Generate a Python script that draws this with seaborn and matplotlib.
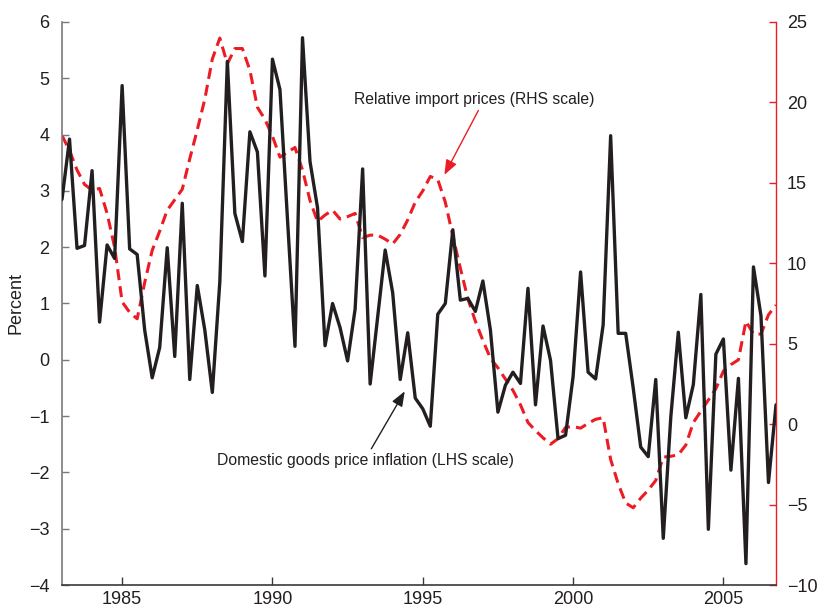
import numpy as np
import pandas as pd
import matplotlib
matplotlib.use("Agg")
import matplotlib.pyplot as plt
import seaborn as sns

# Quarterly observations, 1983 Q1 - 2006 Q4
quarters = np.arange(1983, 2007, 0.25)

# Domestic goods price inflation, percent (left scale)
domestic_inflation = [
    2.85, 3.92, 1.98, 2.03, 3.36, 0.67, 2.04, 1.80,
    4.87, 1.97, 1.87, 0.53, -0.32, 0.22, 1.99, 0.06,
    2.78, -0.35, 1.32, 0.53, -0.58, 1.39, 5.30, 2.60,
    2.10, 4.05, 3.69, 1.49, 5.34, 4.80, 2.50, 0.24,
    5.72, 3.52, 2.70, 0.25, 1.00, 0.57, -0.02, 0.90,
    3.39, -0.43, 0.76, 1.95, 1.19, -0.35, 0.48, -0.68,
    -0.87, -1.18, 0.81, 1.00, 2.31, 1.06, 1.09, 0.86,
    1.40, 0.53, -0.93, -0.45, -0.22, -0.42, 1.27, -0.80,
    0.60, -0.01, -1.40, -1.34, -0.30, 1.56, -0.22, -0.34,
    0.62, 3.98, 0.47, 0.47, -0.50, -1.55, -1.72, -0.35,
    -3.17, -1.02, 0.49, -1.03, -0.44, 1.16, -3.01, 0.10,
    0.37, -1.96, -0.33, -3.62, 1.65, 0.78, -2.18, -0.80,
]

# Relative import prices (right scale)
relative_import_prices = [
    17.95, 17.0, 15.8, 14.9, 14.55, 14.65, 13.1, 11.0,
    7.6, 6.95, 6.55, 8.8, 10.8, 12.0, 13.3, 13.95,
    14.6, 16.5, 18.3, 20.2, 22.7, 24.0, 22.4, 23.35,
    23.35, 22.0, 19.7, 18.95, 17.9, 16.6, 16.9, 17.2,
    15.8, 13.9, 12.6, 13.0, 13.3, 12.75, 12.9, 13.1,
    11.6, 11.75, 11.75, 11.5, 11.2, 11.8, 12.7, 13.8,
    14.5, 15.4, 15.2, 13.8, 11.7, 9.7, 7.8, 6.4,
    5.2, 4.1, 3.5, 2.8, 2.1, 1.2, 0.1, -0.4,
    -0.85, -1.25, -0.9, -0.2, -0.15, -0.25, 0.05, 0.3,
    0.4, -2.2, -3.7, -4.9, -5.2, -4.6, -4.1, -3.5,
    -2.05, -2.0, -1.9, -1.3, 0.1, 0.8, 1.5, 2.2,
    3.3, 3.7, 4.0, 6.4, 5.6, 5.6, 6.8, 7.4,
]

left_ticks = list(range(-4, 7))
right_ticks = list(range(-10, 30, 5))
year_ticks = [1985, 1990, 1995, 2000, 2005]

df = pd.DataFrame({
    "quarter": quarters,
    "domestic": domestic_inflation,
    "imports": relative_import_prices,
})

sns.set_style("ticks")
plt.rcParams["font.family"] = ["Liberation Sans", "DejaVu Sans"]

BLACK = "#231f20"
RED = "#ed1c24"

fig = plt.figure(figsize=(8.19, 6.10), dpi=100)
ax = fig.add_axes([62 / 819, 1 - 585 / 610, (776 - 62) / 819, (585 - 22) / 610])
ax2 = ax.twinx()

sns.lineplot(data=df, x="quarter", y="domestic", ax=ax, color=BLACK,
             linewidth=2.4, zorder=3)
sns.lineplot(data=df, x="quarter", y="imports", ax=ax2, color=RED,
             linewidth=2.2, dashes=False)
ax2.lines[0].set_dashes((3.6, 2.0))

ax.set_zorder(ax2.get_zorder() + 1)
ax.patch.set_visible(False)

ax.set_xlim(1983, 2006.75)
ax.set_ylim(-4, 6)
ax2.set_ylim(-10, 25)

ax.set_xticks(year_ticks)
ax.set_yticks(left_ticks)
ax2.set_yticks(right_ticks)

ax.set_xlabel("")
ax.set_ylabel("Percent", fontsize=13, color=BLACK, labelpad=3)
ax2.set_ylabel("")

for a in (ax, ax2):
    a.spines["top"].set_visible(False)
ax.spines["right"].set_visible(False)
ax2.spines["left"].set_visible(False)
ax2.spines["bottom"].set_visible(False)
ax.spines["left"].set_color("#7a7a7a")
ax.spines["bottom"].set_color("#3a3a3a")
ax2.spines["right"].set_color(RED)
for s in ("left", "bottom"):
    ax.spines[s].set_linewidth(1.2)
ax2.spines["right"].set_linewidth(1.0)

ax.tick_params(axis="y", direction="in", length=5, width=1.0, color="#7a7a7a",
               labelsize=13, labelcolor=BLACK, pad=9)
ax.tick_params(axis="x", direction="in", length=6, width=1.0, color="#3a3a3a",
               labelsize=13, labelcolor=BLACK, pad=4)
ax2.tick_params(axis="y", direction="in", length=5, width=1.0, color=RED,
                labelsize=13, labelcolor=BLACK, pad=8)

# Labels with pointers to each series
ax2.text(1992.70, 20.2, "Relative import prices (RHS scale)", fontsize=11.3,
         color=BLACK, ha="left", va="center")
ax2.annotate("", xy=(1995.72, 15.5), xytext=(1996.85, 19.5),
             arrowprops=dict(arrowstyle="-|>,head_length=0.9,head_width=0.35",
                             color=RED, lw=1.0, shrinkA=0, shrinkB=0))

ax.text(1988.14, -1.79, "Domestic goods price inflation (LHS scale)",
        fontsize=11.3, color=BLACK, ha="left", va="center")
ax.annotate("", xy=(1994.4, -0.56), xytext=(1993.29, -1.58),
            arrowprops=dict(arrowstyle="-|>,head_length=0.9,head_width=0.35",
                            color=BLACK, lw=1.0, shrinkA=0, shrinkB=0))

fig.savefig("out.png", dpi=100)
